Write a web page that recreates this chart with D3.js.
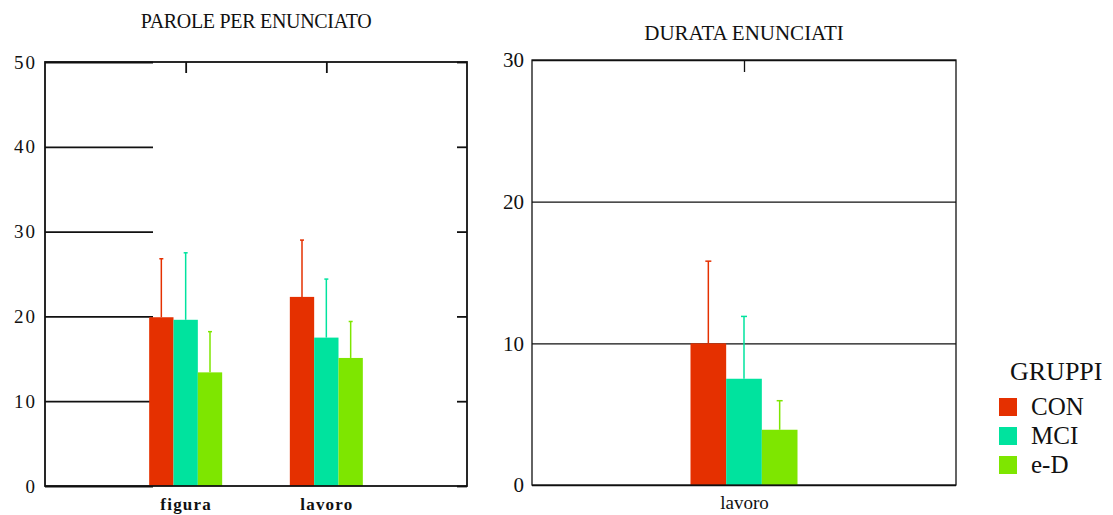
<!DOCTYPE html>
<html>
<head>
<meta charset="utf-8">
<script src="https://cdn.jsdelivr.net/npm/d3@7/dist/d3.min.js"></script>
<style>
  body { margin: 0; background: #fff; }
  svg { display: block; }
  svg text { font-family: "Liberation Serif", "DejaVu Serif", serif; }
</style>
</head>
<body>
<div id="chart"></div>
<script>
// groups (legend) and colours
const groups = ["CON", "MCI", "e-D"];
const groupColors = ["#e53000", "#00e39e", "#7ee600"];

// PAROLE PER ENUNCIATO: mean and mean+SD per category, in group order
const paroleCats = ["figura", "lavoro"];
const paroleMeans = [[19.9, 19.6, 13.4], [22.3, 17.5, 15.1]];
const paroleUpper = [[26.8, 27.5, 18.2], [29.0, 24.4, 19.4]];
const paroleTicks = [0, 10, 20, 30, 40, 50];

// DURATA ENUNCIATI
const durataCats = ["lavoro"];
const durataMeans = [[10.0, 7.5, 3.9]];
const durataUpper = [[15.8, 11.9, 5.95]];
const durataTicks = [0, 10, 20, 30];

const width = 1113, height = 515;
const svg = d3.select("#chart").append("svg")
  .attr("width", width).attr("height", height);

const color = d3.scaleOrdinal().domain(groups).range(groupColors);

function drawPanel(opts) {
  const { left, right, top, bottom, cats, means, upper, ticks, groupWidth, gridLen, rightTicks, catPadding } = opts;
  const g = svg.append("g");

  const y = d3.scaleLinear().domain([0, d3.max(ticks)]).range([bottom, top]);
  const x = d3.scalePoint().domain(cats).range([left, right]).padding(catPadding);
  const xIn = d3.scaleBand().domain(groups).range([-groupWidth / 2, groupWidth / 2]);

  // y axis with (partial) grid lines
  const yAxis = g.append("g")
    .attr("transform", `translate(${left},0)`)
    .call(d3.axisLeft(y).tickValues(ticks).tickSize(-gridLen).tickPadding(opts.labelPad))
    .attr("font-family", null)
    .call(a => a.select(".domain").remove());
  yAxis.selectAll("line").attr("stroke", "#111").attr("stroke-width", opts.stroke);
  yAxis.selectAll("text")
    .attr("fill", "#111")
    .style("font-size", opts.tickFont + "px")
    .style("font-weight", opts.tickWeight)
    .style("letter-spacing", opts.tickSpacing + "px");

  if (rightTicks) {
    g.append("g")
      .attr("transform", `translate(${right},0)`)
      .call(d3.axisRight(y).tickValues(ticks).tickSize(-10).tickFormat(""))
      .call(a => a.select(".domain").remove())
      .selectAll("line").attr("stroke", "#111").attr("stroke-width", opts.stroke);
  }

  // category ticks hanging from the top
  g.append("g")
    .attr("transform", `translate(0,${top})`)
    .call(d3.axisTop(x).tickSize(-opts.topTick).tickFormat(""))
    .call(a => a.select(".domain").remove())
    .selectAll("line").attr("stroke", "#111").attr("stroke-width", opts.stroke);

  // category labels
  const xAxis = g.append("g")
    .attr("transform", `translate(0,${bottom})`)
    .call(d3.axisBottom(x).tickSize(0).tickPadding(opts.catPad))
    .attr("font-family", null)
    .call(a => a.select(".domain").remove());
  xAxis.selectAll("text")
    .attr("fill", "#111")
    .style("font-size", opts.catFont + "px")
    .style("font-weight", opts.catWeight)
    .style("letter-spacing", opts.catSpacing + "px");

  // bars
  const rows = [];
  cats.forEach((c, i) => groups.forEach((grp, j) => {
    rows.push({ cat: c, grp, mean: means[i][j], up: upper[i][j] });
  }));

  g.selectAll(".err").data(rows).join("line")
    .attr("class", "err")
    .attr("x1", d => x(d.cat) + xIn(d.grp) + xIn.bandwidth() / 2)
    .attr("x2", d => x(d.cat) + xIn(d.grp) + xIn.bandwidth() / 2)
    .attr("y1", d => y(d.mean))
    .attr("y2", d => y(d.up))
    .attr("stroke", d => color(d.grp))
    .attr("stroke-width", 1.5);

  g.selectAll(".cap").data(rows).join("line")
    .attr("class", "cap")
    .attr("x1", d => x(d.cat) + xIn(d.grp) + xIn.bandwidth() / 2 - opts.cap)
    .attr("x2", d => x(d.cat) + xIn(d.grp) + xIn.bandwidth() / 2 + opts.cap)
    .attr("y1", d => y(d.up))
    .attr("y2", d => y(d.up))
    .attr("stroke", d => color(d.grp))
    .attr("stroke-width", 1.5);

  g.selectAll(".bar").data(rows).join("rect")
    .attr("class", "bar")
    .attr("x", d => x(d.cat) + xIn(d.grp))
    .attr("y", d => y(d.mean))
    .attr("width", xIn.bandwidth())
    .attr("height", d => y(0) - y(d.mean))
    .attr("fill", d => color(d.grp));

  // frame
  g.append("rect")
    .attr("x", left).attr("y", top)
    .attr("width", right - left).attr("height", bottom - top)
    .attr("fill", "none").attr("stroke", "#111").attr("stroke-width", opts.stroke);

  // title
  svg.append("text")
    .attr("x", (left + right) / 2)
    .attr("y", opts.titleY)
    .attr("text-anchor", "middle")
    .attr("fill", "#111")
    .style("font-size", opts.titleFont + "px")
    .style("letter-spacing", opts.titleSpacing + "px")
    .text(opts.title);
}

drawPanel({
  title: "PAROLE PER ENUNCIATO", titleY: 28, titleFont: 20, titleSpacing: -0.3,
  left: 45, right: 467, top: 62, bottom: 486,
  cats: paroleCats, means: paroleMeans, upper: paroleUpper, ticks: paroleTicks,
  catPadding: 1, groupWidth: 73, gridLen: 108, rightTicks: true, topTick: 11,
  stroke: 1.8, tickFont: 19, tickWeight: "normal", tickSpacing: 2, labelPad: 8,
  catFont: 17, catWeight: "bold", catSpacing: 1.2, catPad: 12, cap: 2
});

drawPanel({
  title: "DURATA ENUNCIATI", titleY: 40, titleFont: 21, titleSpacing: 0,
  left: 532, right: 956, top: 60, bottom: 485,
  cats: durataCats, means: durataMeans, upper: durataUpper, ticks: durataTicks,
  catPadding: 0.5, groupWidth: 107, gridLen: 424, rightTicks: false, topTick: 12,
  stroke: 1.3, tickFont: 21, tickWeight: "normal", tickSpacing: 0, labelPad: 8,
  catFont: 19, catWeight: "normal", catSpacing: 0, catPad: 11, cap: 3
});

// legend
const legend = svg.append("g").attr("transform", "translate(999,371)");
legend.append("text")
  .attr("x", 11).attr("y", 9)
  .attr("fill", "#111")
  .style("font-size", "26px")
  .text("GRUPPI");

const item = legend.selectAll(".item").data(groups).join("g")
  .attr("class", "item")
  .attr("transform", (d, i) => `translate(0,${27 + i * 29})`);
item.append("rect")
  .attr("width", 18).attr("height", 18)
  .attr("fill", d => color(d));
item.append("text")
  .attr("x", 32).attr("y", 17)
  .attr("fill", "#111")
  .style("font-size", "25px")
  .text(d => d);
</script>
</body>
</html>
